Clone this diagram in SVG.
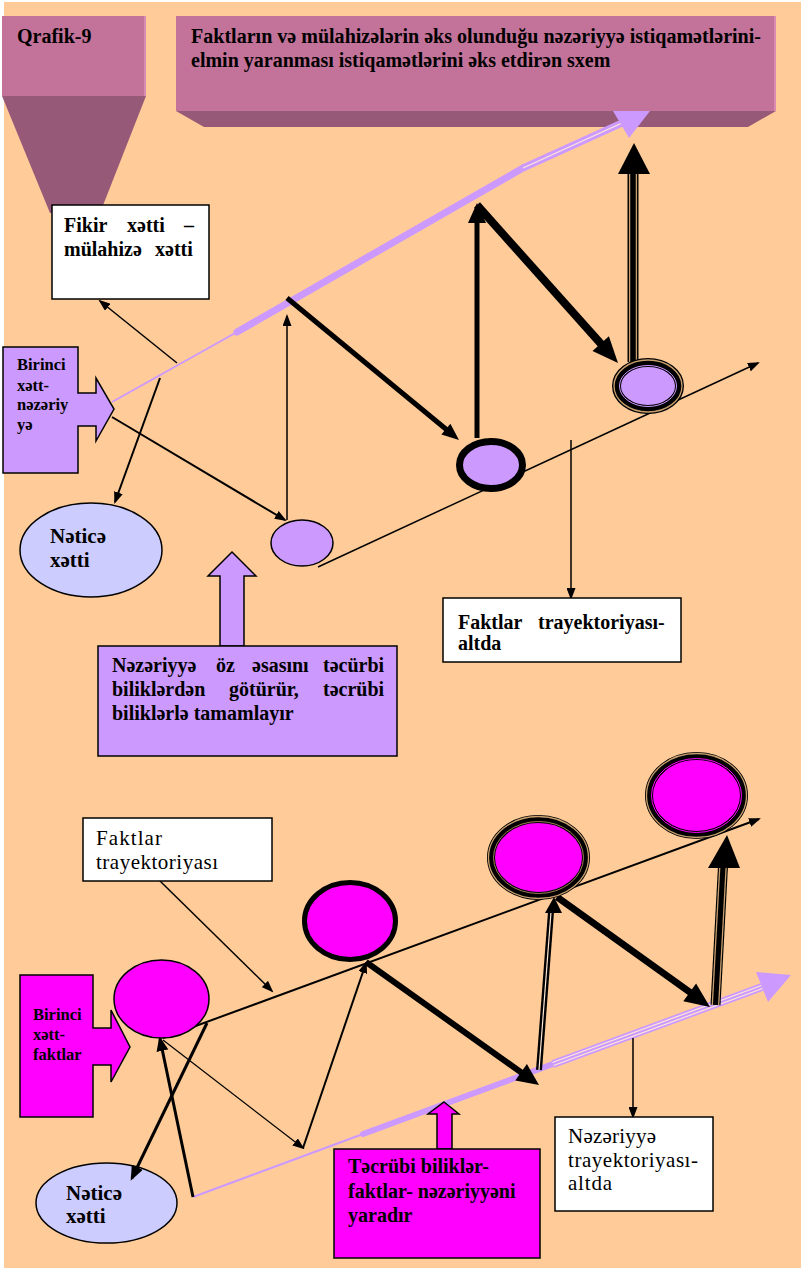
<svg xmlns="http://www.w3.org/2000/svg" width="801" height="1270" viewBox="0 0 801 1270">
<style>
.b{font-family:"Liberation Serif","Times New Roman",serif;font-weight:bold;font-size:20px;fill:#000}
.r{font-family:"Liberation Serif","Times New Roman",serif;font-size:21px;fill:#000}
.sm{font-size:16.5px}
.box{stroke:#000;stroke-width:1.5}
.ln{stroke:#000;fill:none}
.lv{stroke:#CC99FF;fill:none}
.pale{stroke:#FFE8D6;fill:none;stroke-width:1.2}
.tan{stroke:#C8A070;fill:none;stroke-width:1.3}
</style>
<defs>
<marker id="hs" markerUnits="userSpaceOnUse" markerWidth="12" markerHeight="9" refX="10" refY="4.5" orient="auto"><path d="M0,0 L12,4.5 L0,9 z" fill="#000"/></marker>
<marker id="hm" markerUnits="userSpaceOnUse" markerWidth="15" markerHeight="12" refX="12" refY="6" orient="auto"><path d="M0,0 L15,6 L0,12 z" fill="#000"/></marker>
</defs>
<rect x="4" y="2" width="797" height="1266" fill="#FFCC99"/>

<g id="qrafik">
<polygon points="2,96 146,96 100,213 50,213" fill="#965A78"/>
<rect x="2" y="16" width="144" height="80" fill="#C37399"/>
<line x1="145" y1="16" x2="145" y2="96" stroke="#D98BB2" stroke-width="2"/>
<text class="b" x="17" y="43">Qrafik-9</text>
</g>

<g id="title">
<polygon points="176,111 204,127 748,127 776,111" fill="#965A78"/>
<rect x="176" y="16" width="600" height="95" fill="#C37399"/>
<line x1="775" y1="16" x2="775" y2="111" stroke="#D98BB2" stroke-width="2"/>
<text class="b" x="191" y="43" textLength="570" lengthAdjust="spacingAndGlyphs">Faktların və mülahizələrin əks olunduğu nəzəriyyə istiqamətlərini-</text>
<text class="b" x="191" y="67">elmin yaranması istiqamətlərini əks etdirən sxem</text>
</g>

<g id="netice-bottom">
<ellipse class="box" cx="106.5" cy="1203" rx="70.5" ry="40" fill="#CCCCFF"/>
<text class="b" x="66" y="1200" style="font-size:21px">Nəticə</text>
<text class="b" x="66" y="1223" style="font-size:21px">xətti</text>
</g>

<g id="connectors">
<!-- top lavender theory line -->
<line class="lv" x1="112" y1="402" x2="237" y2="332" stroke-width="2"/>
<line class="lv" x1="237" y1="332" x2="523" y2="168" stroke-width="7" stroke-linecap="round"/>
<line class="lv" x1="523" y1="168" x2="622" y2="123" stroke-width="7"/>
<line class="pale" x1="523" y1="168" x2="622" y2="123"/>
<polygon points="613,111 650,111 629,138" fill="#CC99FF"/>

<!-- top black connectors -->
<line class="ln" x1="177" y1="363" x2="100" y2="301" stroke-width="1.5" marker-end="url(#hs)"/>
<line class="ln" x1="160" y1="378" x2="115" y2="502" stroke-width="2" marker-end="url(#hs)"/>
<line class="ln" x1="112" y1="417" x2="285" y2="520" stroke-width="2" marker-end="url(#hs)"/>
<line class="ln" x1="287" y1="520" x2="287" y2="316" stroke-width="1.5" marker-end="url(#hs)"/>
<line class="ln" x1="318" y1="567" x2="758" y2="363" stroke-width="1.5" marker-end="url(#hs)"/>
<line class="ln" x1="287" y1="298" x2="447" y2="430" stroke-width="5"/>
<polygon points="459,440 441.4,434.6 450.4,423.8" fill="#000"/>
<line class="ln" x1="477" y1="438" x2="477" y2="221" stroke-width="5"/>
<polygon points="477,203 468,223 486,223" fill="#000"/>
<line class="ln" x1="477" y1="205" x2="602" y2="345" stroke-width="8"/>
<polygon points="618,363 592.5,350.9 608.9,336.3" fill="#000"/>
<line class="ln" x1="633" y1="362" x2="633" y2="172" stroke-width="11"/>
<line class="tan" x1="629.6" y1="362" x2="629.6" y2="172"/>
<line class="tan" x1="636.4" y1="362" x2="636.4" y2="172"/>
<polygon points="618,174 634,143 650,174" fill="#000"/>
<line class="ln" x1="571" y1="440" x2="571" y2="598" stroke-width="1.5" marker-end="url(#hs)"/>

<!-- bottom lavender theory line -->
<line class="lv" x1="193" y1="1197" x2="363" y2="1134" stroke-width="2"/>
<line class="lv" x1="363" y1="1134" x2="553" y2="1064" stroke-width="6" stroke-linecap="round"/>
<line class="lv" x1="553" y1="1064" x2="762" y2="987" stroke-width="8"/>
<line class="pale" x1="553.6" y1="1065.5" x2="762.6" y2="988.5"/>
<line class="pale" x1="552.4" y1="1062.5" x2="761.4" y2="985.5"/>
<polygon points="756,972 791,975 768,1002" fill="#CC99FF"/>

<!-- bottom black connectors -->
<line class="ln" x1="160" y1="881" x2="272" y2="991" stroke-width="1.5" marker-end="url(#hs)"/>
<line class="ln" x1="163" y1="1038" x2="759" y2="819" stroke-width="2" marker-end="url(#hs)"/>
<line class="ln" x1="207" y1="1023" x2="132" y2="1178" stroke-width="3" marker-end="url(#hm)"/>
<line class="ln" x1="193" y1="1197" x2="160" y2="1039" stroke-width="3" marker-end="url(#hm)"/>
<line class="ln" x1="163" y1="1040" x2="303" y2="1148" stroke-width="1.2" marker-end="url(#hs)"/>
<line class="ln" x1="303" y1="1148" x2="366" y2="963" stroke-width="2" marker-end="url(#hs)"/>
<line class="ln" x1="366" y1="962" x2="522" y2="1073" stroke-width="6"/>
<polygon points="539,1085 515.3,1080.5 526.9,1064.1" fill="#000"/>
<line class="ln" x1="539" y1="1070" x2="551" y2="912" stroke-width="6"/>
<line class="pale" x1="539" y1="1070" x2="551" y2="912" stroke="#C8A070"/>
<polygon points="545,913 554,897 562,913" fill="#000"/>
<line class="ln" x1="557" y1="897" x2="691" y2="993" stroke-width="7"/>
<polygon points="710,1007 683.3,1001.3 696.1,983.5" fill="#000"/>
<line class="ln" x1="715.5" y1="1005" x2="723" y2="866" stroke-width="10"/>
<line class="tan" x1="712.3" y1="1005" x2="719.8" y2="866"/>
<line class="tan" x1="718.7" y1="1005" x2="726.2" y2="866"/>
<polygon points="708,868 727,835 740,868" fill="#000"/>
<line class="ln" x1="633" y1="1038" x2="633" y2="1117" stroke-width="1.5" marker-end="url(#hs)"/>
</g>

<g id="fikir">
<rect class="box" x="52" y="205" width="157" height="94" fill="#fff"/>
<text class="b" y="232"><tspan x="64">Fikir</tspan><tspan x="127">xətti</tspan><tspan x="184">–</tspan></text>
<text class="b" y="256"><tspan x="64">mülahizə</tspan><tspan x="155">xətti</tspan></text>
</g>

<g id="birinci-nezeriyye">
<path class="box" d="M3,347 H78 V393 H96 V378 L114,409 L96,441 V426 H78 V473 H3 Z" fill="#CC99FF"/>
<text class="b sm" x="17" y="370">Birinci</text>
<text class="b sm" x="17" y="391">xətt-</text>
<text class="b sm" x="17" y="410">nəzəriy</text>
<text class="b sm" x="17" y="430">yə</text>
</g>

<g id="netice-top">
<ellipse class="box" cx="91" cy="550" rx="71" ry="47" fill="#CCCCFF"/>
<text class="b" x="50" y="543" style="font-size:21px">Nəticə</text>
<text class="b" x="50" y="567" style="font-size:21px">xətti</text>
</g>

<g id="ellipse-small">
<ellipse class="box" cx="302" cy="543" rx="31" ry="23" fill="#CC99FF"/>
</g>
<g id="ellipse-bold">
<ellipse cx="491" cy="465" rx="31.5" ry="23.5" fill="#CC99FF" stroke="#000" stroke-width="7"/>
</g>
<g id="ellipse-triple-top">
<ellipse cx="648" cy="386" rx="31.5" ry="23.5" fill="#CC99FF" stroke="#000" stroke-width="9"/>
<ellipse cx="648" cy="386" rx="34" ry="26" class="tan" stroke-width="1"/>
<ellipse cx="648" cy="386" rx="28.5" ry="20.5" fill="none" stroke="#CC99FF" stroke-width="1"/>
</g>

<g id="arrow-up-theory">
<path class="box" d="M232,552 L256,576 H244 V646 H220 V576 H208 Z" fill="#CC99FF"/>
</g>

<g id="nezeriyye-box">
<rect class="box" x="98" y="646" width="299" height="110" fill="#CC99FF"/>
<text class="b" y="672"><tspan x="112">Nəzəriyyə</tspan><tspan x="216">öz</tspan><tspan x="252">əsasını</tspan><tspan x="323">təcürbi</tspan></text>
<text class="b" y="696"><tspan x="112">biliklərdən</tspan><tspan x="229">götürür,</tspan><tspan x="323">təcrübi</tspan></text>
<text class="b" x="112" y="720">biliklərlə tamamlayır</text>
</g>

<g id="faktlar-altda">
<rect class="box" x="443" y="598" width="238" height="64" fill="#fff"/>
<text class="b" y="629"><tspan x="458">Faktlar</tspan><tspan x="538">trayektoriyası-</tspan></text>
<text class="b" x="458" y="650">altda</text>
</g>

<g id="faktlar-trayektoriyasi">
<rect class="box" x="83" y="818" width="189" height="63" fill="#fff"/>
<text class="r" x="96" y="845" textLength="66" lengthAdjust="spacing">Faktlar</text>
<text class="r" x="96" y="869" textLength="122" lengthAdjust="spacing">trayektoriyası</text>
</g>

<g id="birinci-faktlar">
<path class="box" d="M20,975 H93 V1028 H111 V1010 L130,1047 L111,1082 V1065 H93 V1117 H20 Z" fill="#FF00FF"/>
<text class="b sm" x="33" y="1020">Birinci</text>
<text class="b sm" x="33" y="1040">xətt-</text>
<text class="b sm" x="33" y="1060">faktlar</text>
</g>

<g id="fakt-1">
<ellipse class="box" cx="161.5" cy="999" rx="47.5" ry="39" fill="#FF00FF"/>
</g>
<g id="fakt-2">
<ellipse cx="350" cy="921" rx="45.5" ry="38.5" fill="#FF00FF" stroke="#000" stroke-width="5"/>
</g>
<g id="fakt-3">
<ellipse cx="538.5" cy="857.5" rx="47.5" ry="38.5" fill="#FF00FF" stroke="#000" stroke-width="8"/>
<ellipse cx="538.5" cy="857.5" rx="50" ry="41" class="tan" stroke-width="1"/>
<ellipse cx="538.5" cy="857.5" rx="45" ry="36" fill="none" stroke="#C8A070" stroke-width="0.8"/>
</g>
<g id="fakt-4">
<ellipse cx="696.5" cy="795.5" rx="47.5" ry="39.5" fill="#FF00FF" stroke="#000" stroke-width="8"/>
<ellipse cx="696.5" cy="795.5" rx="50" ry="42" class="tan" stroke-width="1"/>
<ellipse cx="696.5" cy="795.5" rx="45" ry="37" fill="none" stroke="#FF00FF" stroke-width="1"/>
</g>

<g id="arrow-up-facts">
<path class="box" d="M444,1102 L459,1114 H452 V1149 H437 V1114 H428 Z" fill="#FF00FF"/>
</g>

<g id="tecrubi-box">
<rect class="box" x="334" y="1149" width="206" height="109" fill="#FF00FF"/>
<text class="b" x="348" y="1173">Təcrübi biliklər-</text>
<text class="b" x="348" y="1198">faktlar- nəzəriyyəni</text>
<text class="b" x="348" y="1222">yaradır</text>
</g>

<g id="nezeriyye-trayektoriyasi">
<rect class="box" x="555" y="1117" width="158" height="94" fill="#fff"/>
<text class="r" x="568" y="1143" textLength="88" lengthAdjust="spacing">Nəzəriyyə</text>
<text class="r" x="568" y="1167" textLength="130" lengthAdjust="spacing">trayektoriyası-</text>
<text class="r" x="568" y="1190" textLength="44" lengthAdjust="spacing">altda</text>
</g>
</svg>
